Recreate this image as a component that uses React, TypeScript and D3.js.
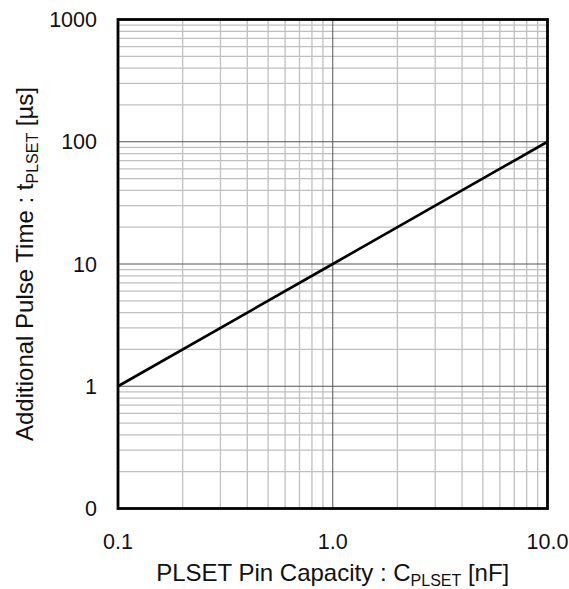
import { useEffect, useRef } from 'react'
import * as d3 from 'd3'

// curve: additional pulse time vs PLSET pin capacity
const capacityNF = [0.1, 1, 10]
const pulseTimeUs = [1, 10, 100]

const xTickValues = [0.1, 1, 10]
const xTickLabels = ['0.1', '1.0', '10.0']
const yTickValues = [0.1, 1, 10, 100, 1000]
const yTickLabels = ['0', '1', '10', '100', '1000']

const W = 569
const H = 589
const FONT = 'Arial, "Liberation Sans", sans-serif'
const TICK_SIZE = '21.5px'
const TITLE_SIZE = '24px'
const SUB_SIZE = '16px'

export default function App() {
  const svgRef = useRef<SVGSVGElement>(null)

  useEffect(() => {
    if (!svgRef.current) return
    const svg = d3.select(svgRef.current)
    svg.selectAll('*').remove()

    const margin = { top: 19.5, right: 21.5, bottom: 80.5, left: 118 }
    const width = W - margin.left - margin.right
    const height = H - margin.top - margin.bottom

    const x = d3.scaleLog().domain([0.1, 10]).range([0, width])
    const y = d3.scaleLog().domain([0.1, 1000]).range([height, 0])

    const g = svg.append('g').attr('transform', `translate(${margin.left},${margin.top})`)

    // minor grid
    const minorX: number[] = []
    for (const dec of [0.1, 1]) for (let k = 2; k <= 9; k++) minorX.push(dec * k)
    const minorY: number[] = []
    for (const dec of [0.1, 1, 10, 100]) for (let k = 2; k <= 9; k++) minorY.push(dec * k)

    g.selectAll('.mx')
      .data(minorX)
      .enter()
      .append('line')
      .attr('x1', d => x(d))
      .attr('x2', d => x(d))
      .attr('y1', 0)
      .attr('y2', height)
      .attr('stroke', '#c0c0c0')
      .attr('stroke-width', 1.3)

    g.selectAll('.my')
      .data(minorY)
      .enter()
      .append('line')
      .attr('y1', d => y(d))
      .attr('y2', d => y(d))
      .attr('x1', 0)
      .attr('x2', width)
      .attr('stroke', '#c0c0c0')
      .attr('stroke-width', 1.3)

    // major grid
    g.selectAll('.Mx')
      .data([1])
      .enter()
      .append('line')
      .attr('x1', d => x(d))
      .attr('x2', d => x(d))
      .attr('y1', 0)
      .attr('y2', height)
      .attr('stroke', '#555')
      .attr('stroke-width', 1)

    g.selectAll('.My')
      .data([1, 10, 100])
      .enter()
      .append('line')
      .attr('y1', d => y(d))
      .attr('y2', d => y(d))
      .attr('x1', 0)
      .attr('x2', width)
      .attr('stroke', '#555')
      .attr('stroke-width', 1)

    // curve
    const line = d3.line<number>()
      .x((_, i) => x(capacityNF[i]))
      .y(d => y(d))

    g.append('path')
      .datum(pulseTimeUs)
      .attr('fill', 'none')
      .attr('stroke', '#000')
      .attr('stroke-width', 2.6)
      .attr('d', line)

    // frame
    g.append('rect')
      .attr('width', width)
      .attr('height', height)
      .attr('fill', 'none')
      .attr('stroke', '#000')
      .attr('stroke-width', 2.8)

    // tick labels
    g.selectAll('.xt')
      .data(xTickValues)
      .enter()
      .append('text')
      .attr('x', d => x(d))
      .attr('y', height + 40)
      .attr('text-anchor', 'middle')
      .style('font-family', FONT)
      .style('font-size', TICK_SIZE)
      .attr('fill', '#111')
      .text((_, i) => xTickLabels[i])

    g.selectAll('.yt')
      .data(yTickValues)
      .enter()
      .append('text')
      .attr('x', -21)
      .attr('y', d => y(d) + 7.5)
      .attr('text-anchor', 'end')
      .style('font-family', FONT)
      .style('font-size', TICK_SIZE)
      .attr('fill', '#111')
      .text((_, i) => yTickLabels[i])

    // x axis title
    const xt = svg.append('text')
      .attr('x', margin.left + width / 2)
      .attr('y', 581)
      .attr('text-anchor', 'middle')
      .style('font-family', FONT)
      .style('font-size', TITLE_SIZE)
      .attr('fill', '#111')
    xt.append('tspan').text('PLSET Pin Capacity : C')
    xt.append('tspan').attr('dy', 5).style('font-size', SUB_SIZE).text('PLSET')
    xt.append('tspan').attr('dy', -5).text(' [nF]')

    // y axis title
    const yt = svg.append('text')
      .attr('transform', `translate(33,${margin.top + height / 2}) rotate(-90)`)
      .attr('text-anchor', 'middle')
      .style('font-family', FONT)
      .style('font-size', TITLE_SIZE)
      .attr('fill', '#111')
    yt.append('tspan').text('Additional Pulse Time : t')
    yt.append('tspan').attr('dy', 5).style('font-size', SUB_SIZE).text('PLSET')
    yt.append('tspan').attr('dy', -5).text(' [\u00b5s]')
  }, [])

  return (
    <svg
      ref={svgRef}
      width={W}
      height={H}
      style={{ position: 'absolute', left: 0, top: 0, background: '#fff' }}
    />
  )
}
